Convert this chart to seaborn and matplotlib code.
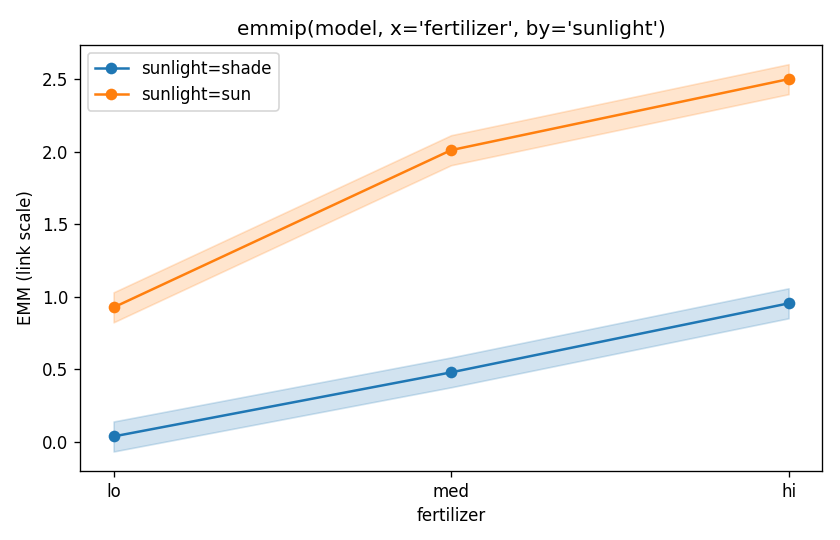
import pandas as pd
import matplotlib
matplotlib.use("Agg")
import matplotlib.pyplot as plt
import seaborn as sns

# === data ===
levels = ["lo", "med", "hi"]
groups = ["shade", "sun"]

shade_emm = [0.035, 0.477, 0.953]
shade_lo = [-0.069, 0.374, 0.850]
shade_hi = [0.138, 0.580, 1.057]

sun_emm = [0.925, 2.010, 2.500]
sun_lo = [0.822, 1.906, 2.396]
sun_hi = [1.029, 2.113, 2.603]

colors = {"shade": "#1f77b4", "sun": "#ff7f0e"}

df = pd.concat([
    pd.DataFrame({"fertilizer": levels, "emm": shade_emm,
                  "lower": shade_lo, "upper": shade_hi, "sunlight": "shade"}),
    pd.DataFrame({"fertilizer": levels, "emm": sun_emm,
                  "lower": sun_lo, "upper": sun_hi, "sunlight": "sun"}),
], ignore_index=True)

# === plot ===
fig, ax = plt.subplots(figsize=(7, 4.5), dpi=120)

for g in groups:
    sub = df[df["sunlight"] == g]
    ax.fill_between(range(len(levels)), sub["lower"], sub["upper"],
                    color=colors[g], alpha=0.2)

sns.lineplot(data=df, x="fertilizer", y="emm", hue="sunlight",
             palette=colors, marker="o", markersize=7, markeredgewidth=0,
             legend=False, ax=ax)

# usual 5% margin around the bands
ymin, ymax = df["lower"].min(), df["upper"].max()
pad = 0.05 * (ymax - ymin)
ax.set_ylim(ymin - pad, ymax + pad)

ax.legend(handles=ax.lines[:2], labels=[f"sunlight={g}" for g in groups],
          loc="upper left")
ax.set_xlabel("fertilizer")
ax.set_ylabel("EMM (link scale)")
ax.set_title("emmip(model, x='fertilizer', by='sunlight')")

fig.subplots_adjust(left=0.095, right=0.979, top=0.917, bottom=0.128)
plt.savefig("out.png")
